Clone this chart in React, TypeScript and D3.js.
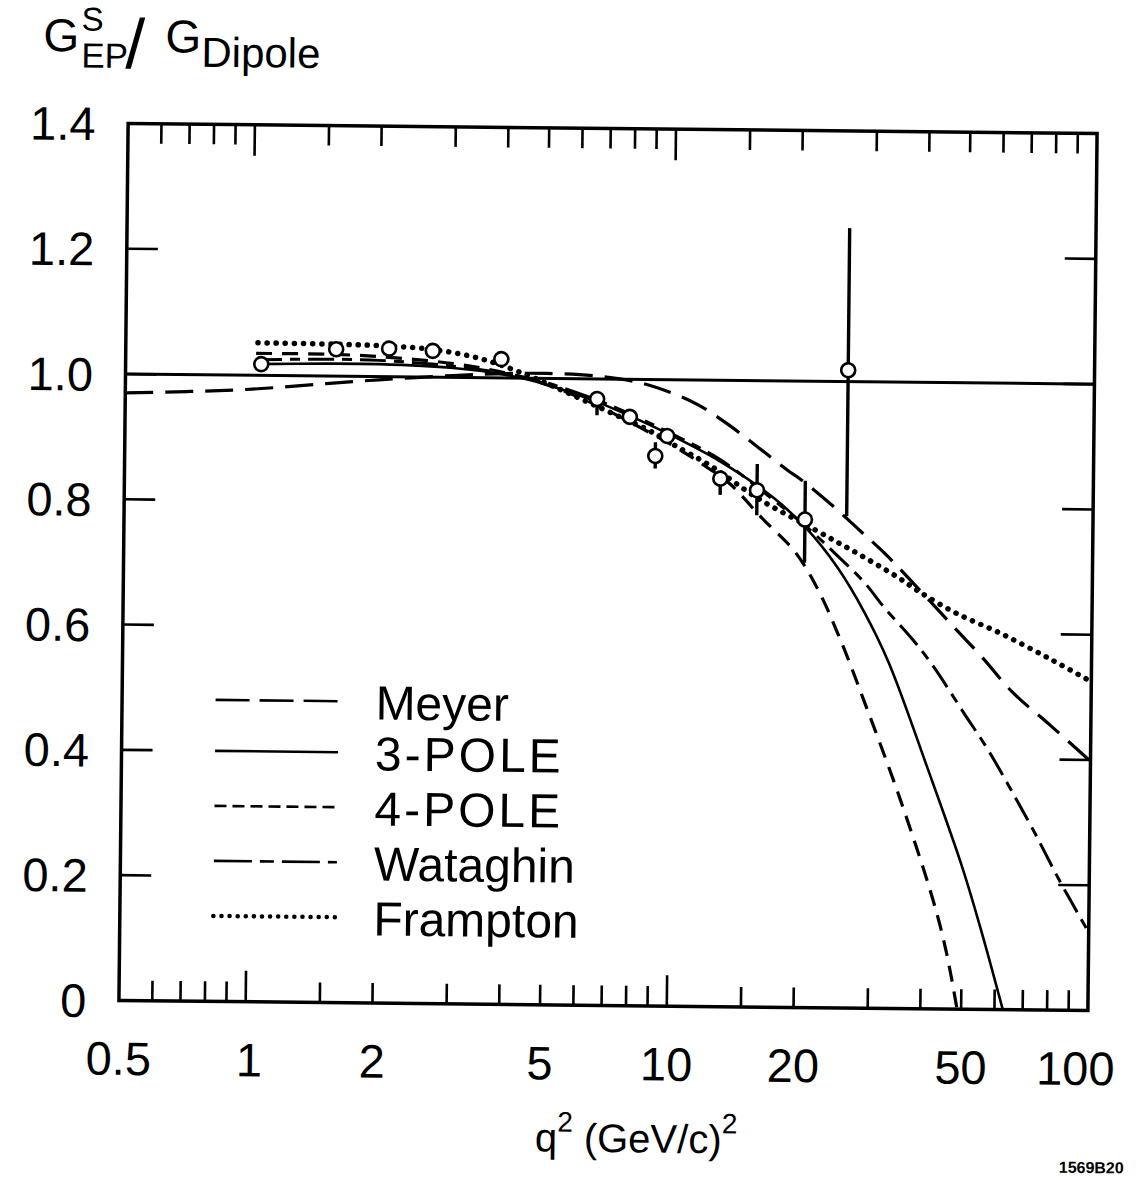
import React, { useEffect, useRef } from 'react';
import * as d3 from 'd3';

// model curves: q^2 in (GeV/c)^2, value = G_EP^S / G_Dipole
const meyerQ2 = [0.5, 0.7, 1, 1.5, 2, 3, 4, 5, 6.5, 8.3, 10, 11.5, 13.5, 16, 18.8, 20, 24.4, 28, 32, 40, 47, 55, 65, 80, 100];
const meyerVal = [0.97, 0.973, 0.978, 0.988, 0.995, 1.003, 1.007, 1.008, 1.005, 0.995, 0.978, 0.96, 0.93, 0.893, 0.857, 0.845, 0.798, 0.762, 0.727, 0.66, 0.61, 0.562, 0.507, 0.455, 0.398];

const pole3Q2 = [1.02, 1.5, 2, 3, 4, 5, 6.5, 8, 10, 13, 17.5, 20.8, 24.8, 28.8, 33, 41, 50, 56, 62.8];
const pole3Val = [1.018, 1.02, 1.02, 1.015, 1.005, 0.99, 0.965, 0.94, 0.91, 0.87, 0.812, 0.766, 0.703, 0.632, 0.552, 0.385, 0.225, 0.118, 0];

const pole4Q2 = [1.02, 1.5, 2, 3, 4, 5, 6.5, 8, 10, 12, 13.7, 16.4, 19.6, 22.3, 25.4, 28.8, 35.5, 42.7, 46, 48.9];
const pole4Val = [1.035, 1.035, 1.032, 1.022, 1.008, 0.99, 0.96, 0.93, 0.895, 0.862, 0.835, 0.78, 0.728, 0.668, 0.585, 0.493, 0.332, 0.172, 0.09, 0];

const wataghinQ2 = [1.02, 1.5, 2, 3, 4, 5, 6.5, 8, 10, 13, 17, 21, 24.4, 28.8, 32, 37.6, 42, 50, 57, 65, 74, 85, 100];
const wataghinVal = [1.025, 1.027, 1.026, 1.018, 1.007, 0.993, 0.968, 0.943, 0.913, 0.873, 0.815, 0.766, 0.726, 0.679, 0.641, 0.589, 0.548, 0.472, 0.415, 0.35, 0.283, 0.207, 0.125];

const framptonQ2 = [1.03, 1.6, 2.1, 2.7, 3.5, 4.5, 5.5, 7.3, 8.7, 10, 12.4, 16, 22, 27.6, 34.4, 39, 47.6, 61, 80, 100];
const framptonVal = [1.052, 1.051, 1.049, 1.044, 1.03, 1.005, 0.98, 0.943, 0.92, 0.897, 0.862, 0.812, 0.762, 0.726, 0.689, 0.665, 0.632, 0.6, 0.56, 0.525];

// measured points with error bars
const pointQ2 = [1.05, 1.58, 2.11, 2.68, 3.9, 6.6, 7.9, 9.1, 9.7, 13.0, 15.9, 20.7, 26.0];
const pointVal = [1.018, 1.043, 1.045, 1.042, 1.03, 0.968, 0.94, 0.878, 0.91, 0.843, 0.825, 0.779, 1.018];
const pointLo = [1.018, 1.043, 1.045, 1.042, 1.03, 0.942, 0.94, 0.858, 0.91, 0.817, 0.785, 0.71, 0.785];
const pointHi = [1.018, 1.043, 1.045, 1.042, 1.03, 0.968, 0.94, 0.9, 0.91, 0.843, 0.867, 0.841, 1.245];

const yTickValues = [0, 0.2, 0.4, 0.6, 0.8, 1.0, 1.2, 1.4];
const yTickLabels = ['0', '0.2', '0.4', '0.6', '0.8', '1.0', '1.2', '1.4'];
const xLabelValues = [0.5, 1, 2, 5, 10, 20, 50, 100];
const xLabelText = ['0.5', '1', '2', '5', '10', '20', '50', '100'];
const xMinorTicks = [0.6, 0.7, 0.8, 0.9, 1.5, 2, 3, 4, 5, 6, 7, 8, 9, 15, 20, 30, 40, 50, 60, 70, 80, 90];
const xMajorTicks = [1, 10];

const seriesNames = ['Meyer', '3-POLE', '4-POLE', 'Wataghin', 'Frampton'];
const seriesQ2 = [meyerQ2, pole3Q2, pole4Q2, wataghinQ2, framptonQ2];
const seriesVal = [meyerVal, pole3Val, pole4Val, wataghinVal, framptonVal];

const lineStyles: Record<string, { dash: string; legendDash: string; width: number; cap: string }> = {
  Meyer: { dash: '28 12', legendDash: '34 10', width: 3.2, cap: 'butt' },
  '3-POLE': { dash: 'none', legendDash: 'none', width: 2.6, cap: 'butt' },
  '4-POLE': { dash: '16 10', legendDash: '12 6', width: 3.2, cap: 'butt' },
  Wataghin: { dash: '26 8 10 8', legendDash: '38 8 14 8', width: 3, cap: 'butt' },
  Frampton: { dash: '0.1 9', legendDash: '0.1 8', width: 5.5, cap: 'round' },
};

const W = 1145;
const H = 1189;
const box = { left: 123.5, right: 1092.5, top: 128.5, bottom: 1005.5 };
const FONT = '"Liberation Sans", Arial, sans-serif';

const drawChart = (el: SVGSVGElement) => {
  const svg = d3.select(el);
  svg.selectAll('*').remove();
  svg.attr('width', W).attr('height', H);
  svg.append('rect').attr('width', W).attr('height', H).attr('fill', '#fff');

  // scanned page sits slightly rotated
  const root = svg.append('g').attr('transform', 'rotate(0.6 608 567)');

  const x = d3.scaleLog().domain([0.5, 100]).range([box.left, box.right]);
  const y = d3.scaleLinear().domain([0, 1.4]).range([box.bottom, box.top]);

  root
    .append('clipPath')
    .attr('id', 'plot-clip')
    .append('rect')
    .attr('x', box.left)
    .attr('y', box.top)
    .attr('width', box.right - box.left)
    .attr('height', box.bottom - box.top);

  // frame
  root
    .append('rect')
    .attr('x', box.left)
    .attr('y', box.top)
    .attr('width', box.right - box.left)
    .attr('height', box.bottom - box.top)
    .attr('fill', 'none')
    .attr('stroke', '#000')
    .attr('stroke-width', 3.5);

  // ticks
  const ticks = root.append('g').attr('stroke', '#000').attr('stroke-width', 2.6);
  const xt = [
    ...xMinorTicks.map((v) => ({ v, len: 20 })),
    ...xMajorTicks.map((v) => ({ v, len: 31 })),
  ];
  ticks
    .selectAll('line.top')
    .data(xt)
    .join('line')
    .attr('class', 'top')
    .attr('x1', (d) => x(d.v))
    .attr('x2', (d) => x(d.v))
    .attr('y1', box.top)
    .attr('y2', (d) => box.top + d.len);
  ticks
    .selectAll('line.bottom')
    .data(xt)
    .join('line')
    .attr('class', 'bottom')
    .attr('x1', (d) => x(d.v))
    .attr('x2', (d) => x(d.v))
    .attr('y1', box.bottom)
    .attr('y2', (d) => box.bottom - d.len);
  const yInner = yTickValues.filter((v) => v > 0 && v < 1.4);
  ticks
    .selectAll('line.left')
    .data(yInner)
    .join('line')
    .attr('class', 'left')
    .attr('x1', box.left)
    .attr('x2', box.left + 31)
    .attr('y1', (d) => y(d))
    .attr('y2', (d) => y(d));
  ticks
    .selectAll('line.right')
    .data(yInner)
    .join('line')
    .attr('class', 'right')
    .attr('x1', box.right - 31)
    .attr('x2', box.right)
    .attr('y1', (d) => y(d))
    .attr('y2', (d) => y(d));

  // reference line at ratio 1
  root
    .append('line')
    .attr('x1', box.left)
    .attr('x2', box.right)
    .attr('y1', y(1))
    .attr('y2', y(1))
    .attr('stroke', '#000')
    .attr('stroke-width', 3);

  // model curves
  const curves = root.append('g').attr('clip-path', 'url(#plot-clip)').attr('fill', 'none');
  const gen = d3.line().curve(d3.curveCatmullRom.alpha(0.5));
  seriesNames.forEach((name, si) => {
    const pts = seriesQ2[si].map((q, i) => [x(q), y(seriesVal[si][i])] as [number, number]);
    const st = lineStyles[name];
    curves
      .append('path')
      .attr('d', gen(pts))
      .attr('stroke', '#000')
      .attr('stroke-width', st.width)
      .attr('stroke-dasharray', st.dash)
      .attr('stroke-linecap', st.cap);
  });

  // data points
  const pts = pointQ2.map((q, i) => ({ q, v: pointVal[i], lo: pointLo[i], hi: pointHi[i] }));
  const pg = root.append('g');
  pg.selectAll('line.err')
    .data(pts.filter((d) => d.hi - d.lo > 0.001))
    .join('line')
    .attr('class', 'err')
    .attr('x1', (d) => x(d.q))
    .attr('x2', (d) => x(d.q))
    .attr('y1', (d) => y(d.hi))
    .attr('y2', (d) => y(d.lo))
    .attr('stroke', '#000')
    .attr('stroke-width', 3.4);
  pg.selectAll('circle')
    .data(pts)
    .join('circle')
    .attr('cx', (d) => x(d.q))
    .attr('cy', (d) => y(d.v))
    .attr('r', 7)
    .attr('fill', '#fff')
    .attr('stroke', '#000')
    .attr('stroke-width', 2.6);

  // tick labels
  const txt = root.append('g').attr('font-family', FONT).attr('fill', '#000');
  txt
    .selectAll('text.ylab')
    .data(yTickValues)
    .join('text')
    .attr('class', 'ylab')
    .attr('x', 91)
    .attr('y', (d) => y(d) + 17)
    .attr('text-anchor', 'end')
    .attr('font-size', 47)
    .text((_, i) => yTickLabels[i]);
  txt
    .selectAll('text.xlab')
    .data(xLabelValues)
    .join('text')
    .attr('class', 'xlab')
    .attr('x', (d) => x(d))
    .attr('dx', (_, i) => (i === xLabelValues.length - 1 ? -12 : i === 1 ? 4 : 0))
    .attr('y', 1080)
    .attr('text-anchor', 'middle')
    .attr('font-size', 47)
    .text((_, i) => xLabelText[i]);

  // axis title
  const xTitle = txt
    .append('text')
    .attr('x', 642)
    .attr('y', 1152)
    .attr('text-anchor', 'middle')
    .attr('font-size', 40);
  xTitle.append('tspan').text('q');
  xTitle.append('tspan').attr('font-size', 28).attr('dy', -20).text('2');
  xTitle.append('tspan').attr('dy', 20).text(' (GeV/c)');
  xTitle.append('tspan').attr('font-size', 28).attr('dy', -20).text('2');

  // y title  G^S_EP / G_Dipole
  const yTitle = txt.append('text').attr('x', 38).attr('y', 57).attr('font-size', 46);
  yTitle.append('tspan').text('G');
  yTitle.append('tspan').attr('x', 76).attr('y', 36).attr('font-size', 33).text('S');
  yTitle.append('tspan').attr('x', 76).attr('y', 73).attr('font-size', 35).text('EP');
  yTitle.append('tspan').attr('x', 120).attr('y', 73).attr('font-size', 70).text('/');
  yTitle.append('tspan').attr('x', 160).attr('y', 57).attr('font-size', 46).text('G');
  yTitle.append('tspan').attr('x', 196).attr('y', 71).attr('font-size', 42).text('Dipole');

  txt
    .append('text')
    .attr('x', 1130)
    .attr('y', 1168)
    .attr('text-anchor', 'end')
    .attr('font-size', 16)
    .attr('font-weight', 'bold')
    .text('1569B20');

  // legend
  const legendY = [704, 755, 810, 865, 920];
  const lg = root.append('g');
  seriesNames.forEach((name, i) => {
    const st = lineStyles[name];
    lg.append('line')
      .attr('x1', 217)
      .attr('x2', 340)
      .attr('y1', legendY[i])
      .attr('y2', legendY[i])
      .attr('stroke', '#000')
      .attr('stroke-width', name === 'Frampton' ? 4.5 : 2.6)
      .attr('stroke-dasharray', st.legendDash)
      .attr('stroke-linecap', st.cap);
    lg.append('text')
      .attr('x', 377)
      .attr('y', legendY[i] + 18)
      .attr('font-family', FONT)
      .attr('font-size', 48)
      .attr('letter-spacing', name.includes('POLE') ? 3 : 0)
      .text(name);
  });
};

const App: React.FC = () => {
  const ref = useRef<SVGSVGElement>(null);

  useEffect(() => {
    if (ref.current) drawChart(ref.current);
  }, []);

  return (
    <svg
      ref={ref}
      width={W}
      height={H}
      style={{ position: 'absolute', left: 0, top: 0, display: 'block' }}
    />
  );
};

export default App;
